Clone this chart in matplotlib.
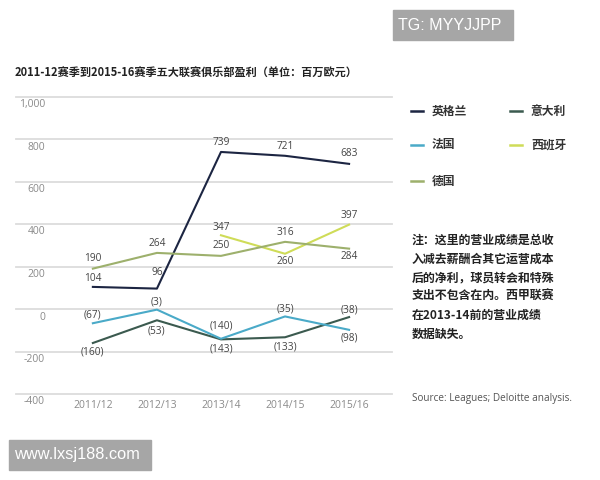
import numpy as np
import matplotlib
matplotlib.use("Agg")
import matplotlib.pyplot as plt
from matplotlib.patches import Rectangle
import matplotlib.transforms as mtransforms

plt.rcParams['font.family'] = ['Open Sans', 'Noto Sans CJK SC', 'DejaVu Sans']

seasons = ["2011/12", "2012/13", "2013/14", "2014/15", "2015/16"]
england = [104, 96, 739, 721, 683]
italy = [-160, -53, -143, -133, -38]
france = [-67, -3, -140, -35, -98]
spain = [np.nan, np.nan, 347, 260, 397]
germany = [190, 264, 250, 316, 284]
series_names = ["英格兰", "意大利", "法国", "西班牙", "德国"]
yticks = [1000, 800, 600, 400, 200, 0, -200, -400]

title = "2011-12赛季到2015-16赛季五大联赛俱乐部盈利（单位：百万欧元）"
note_lines = ["注：这里的营业成绩是总收", "入减去薪酬合其它运营成本", "后的净利，球员转会和特殊",
              "支出不包含在内。西甲联赛", "在2013-14前的营业成绩", "数据缺失。"]
source = "Source: Leagues; Deloitte analysis."

colors = ["#1c2542", "#3b5a4f", "#4aaac8", "#cfdc58", "#9db06c"]
# label vertical offsets in pixels (positive = above)
offsets = {
    0: [8, 16, 9, 9, 10],
    1: [-9, -11, -10, -10, 7],
    2: [8, 8, 13, 7, -8],
    3: [0, 0, 8, -8, 9],
    4: [10, 9, 10, 9, -8],
}

fig = plt.figure(figsize=(6, 4.8), dpi=100)
W, H = 600, 480
left_px, right_px = 16, 392
top_px, bot_px = 96.5, 394
ax = fig.add_axes([left_px / W, 1 - bot_px / H, (right_px - left_px) / W, (bot_px - top_px) / H])
x = np.arange(len(seasons))
ax.set_xlim(-1.2, 4.67)
ax.set_ylim(-400, 1000)
for s in ax.spines.values():
    s.set_visible(False)
ax.set_yticks([])
ax.set_xticks(x)
ax.set_xticklabels(seasons, fontsize=7.5, color="#8a8a8a")
ax.tick_params(axis='x', length=0, pad=4)

for v in yticks:
    ax.axhline(v, color="#dcdcdc", lw=1.3, clip_on=False, zorder=0)
    trans = mtransforms.blended_transform_factory(ax.transAxes, ax.transData)
    ax.annotate(f"{v:,}", xy=((45 - left_px) / (right_px - left_px), v), xycoords=trans,
                xytext=(0, -8), textcoords='offset pixels', ha='right', va='center',
                fontsize=7.5, color="#8a8a8a")

data = [england, italy, france, spain, germany]
for i, (vals, c) in enumerate(zip(data, colors)):
    ax.plot(x, vals, color=c, lw=1.5, zorder=3)
    for j, v in enumerate(vals):
        if np.isnan(v):
            continue
        lab = f"({abs(int(v))})" if v < 0 else f"{int(v)}"
        ax.annotate(lab, xy=(x[j], v), xytext=(0, offsets[i][j]), textcoords='offset pixels',
                    ha='center', va='center', fontsize=7.3, color="#444444", zorder=4)

fig.text(15 / W, 1 - 73 / H, title, fontsize=8, fontweight='bold', color="#222222",
         ha='left', va='center', family=['Noto Sans CJK SC', 'DejaVu Sans'])

# legend
leg_pos = [(411, 111), (510, 111), (411, 145), (510, 145), (411, 181)]
for (lx, ly), name, c in zip(leg_pos, series_names, colors):
    fig.add_artist(plt.Line2D([lx / W, (lx + 12) / W], [1 - ly / H, 1 - ly / H], color=c, lw=1.8))
    fig.text((lx + 21) / W, 1 - ly / H, name, fontsize=8.5, fontweight='bold', color="#333333",
             ha='left', va='center', family=['Noto Sans CJK SC', 'DejaVu Sans'])

for k, line in enumerate(note_lines):
    fig.text(412 / W, 1 - (240 + 18.8 * k) / H, line, fontsize=8.6, fontweight='bold', color="#222222",
             ha='left', va='center', family=['Noto Sans CJK SC', 'DejaVu Sans'])

fig.text(412 / W, 1 - 398 / H, source, fontsize=7.2, color="#555555", ha='left', va='center')

# watermarks
fig.add_artist(Rectangle((393 / W, 1 - 40 / H), 120 / W, 30 / H, transform=fig.transFigure,
                         color="#a6a6a6", zorder=10))
fig.text(398 / W, 1 - 25 / H, "TG: MYYJJPP", fontsize=11.5, color="white", ha='left', va='center',
         family=['Liberation Sans'], zorder=11)
fig.add_artist(Rectangle((9 / W, 1 - 470 / H), 142 / W, 30 / H, transform=fig.transFigure,
                         color="#a6a6a6", zorder=10))
fig.text(14 / W, 1 - 455 / H, "www.lxsj188.com", fontsize=11.8, color="white", ha='left', va='center',
         family=['Liberation Sans'], zorder=11)

fig.savefig("out.png", dpi=100)
